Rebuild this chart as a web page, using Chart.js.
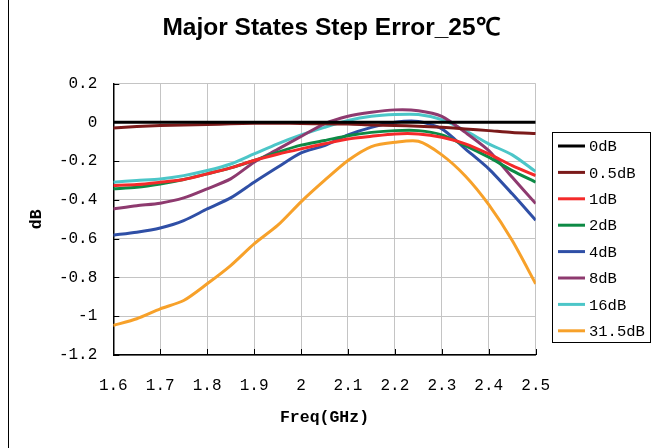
<!DOCTYPE html>
<html>
<head>
<meta charset="UTF-8">
<title>Major States Step Error_25℃</title>
<script src="https://cdn.jsdelivr.net/npm/chart.js"></script>
<style>
  body { margin: 0; background: #fff; }
  #wrap { width: 653px; height: 448px; position: relative; }
</style>
</head>
<body>
<div id="wrap"><canvas id="c"></canvas></div>
<script>
// frequency points (GHz)
const freqs = [1.6, 1.65, 1.7, 1.75, 1.8, 1.85, 1.9, 1.95, 2.0, 2.05, 2.1, 2.15, 2.2, 2.25, 2.3, 2.35, 2.4, 2.45, 2.5];
const labels = ['0dB', '0.5dB', '1dB', '2dB', '4dB', '8dB', '16dB', '31.5dB'];

// step error (dB)
const s0   = [0, 0, 0, 0, 0, 0, 0, 0, 0, 0, 0, 0, 0, 0, 0, 0, 0, 0, 0];
const s05  = [-0.029, -0.022, -0.017, -0.014, -0.012, -0.008, -0.005, -0.005, -0.006, -0.008, -0.009, -0.014, -0.017, -0.02, -0.026, -0.034, -0.043, -0.053, -0.058];
const s1   = [-0.326, -0.321, -0.309, -0.295, -0.266, -0.235, -0.197, -0.165, -0.137, -0.111, -0.086, -0.072, -0.06, -0.06, -0.077, -0.111, -0.163, -0.223, -0.275];
const s2   = [-0.343, -0.335, -0.318, -0.295, -0.266, -0.235, -0.197, -0.155, -0.118, -0.094, -0.069, -0.052, -0.043, -0.043, -0.065, -0.12, -0.18, -0.249, -0.309];
const s4   = [-0.582, -0.567, -0.545, -0.507, -0.447, -0.39, -0.309, -0.232, -0.158, -0.12, -0.065, -0.026, 0, 0.004, -0.034, -0.137, -0.24, -0.369, -0.505];
const s8   = [-0.447, -0.43, -0.417, -0.39, -0.343, -0.292, -0.206, -0.14, -0.073, -0.008, 0.031, 0.052, 0.064, 0.06, 0.031, -0.052, -0.146, -0.284, -0.419];
const s16  = [-0.309, -0.3, -0.292, -0.275, -0.249, -0.215, -0.163, -0.111, -0.065, -0.026, 0.009, 0.031, 0.04, 0.04, 0.014, -0.043, -0.111, -0.168, -0.254];
const s315 = [-1.048, -1.013, -0.962, -0.919, -0.833, -0.739, -0.627, -0.532, -0.41, -0.3, -0.197, -0.125, -0.103, -0.098, -0.168, -0.277, -0.425, -0.61, -0.833];

const xTicks = [1.6, 1.7, 1.8, 1.9, 2.0, 2.1, 2.2, 2.3, 2.4, 2.5];
const yTicks = [0.2, 0, -0.2, -0.4, -0.6, -0.8, -1, -1.2];

const colors = ['#000000', '#7b1a1a', '#f42a2a', '#0d8a45', '#2f4fa6', '#8e3a6f', '#4cc6c8', '#f7a12a'];
const series = [s0, s05, s1, s2, s4, s8, s16, s315];

const monoFont = 'Liberation Mono, DejaVu Sans Mono, monospace';

// title, frame line, inward tick marks and the boxed legend
const decor = {
  id: 'decor',
  afterDraw(chart) {
    const ctx = chart.ctx;
    const area = chart.chartArea;
    const xs = chart.scales.x, ys = chart.scales.y;
    ctx.save();
    ctx.fillStyle = '#000';
    ctx.font = 'bold 24.5px Liberation Sans, Arial, sans-serif';
    ctx.textAlign = 'center';
    ctx.textBaseline = 'middle';
    ctx.fillText('Major States Step Error_25℃', 331, 28);

    ctx.strokeStyle = '#000';
    ctx.lineWidth = 1;
    ctx.beginPath();
    ctx.moveTo(8.5, 0);
    ctx.lineTo(8.5, 448);
    // inward ticks
    xTicks.forEach(v => {
      const px = Math.round(xs.getPixelForValue(v)) + 0.5;
      ctx.moveTo(px, area.bottom);
      ctx.lineTo(px, area.bottom - 6);
    });
    yTicks.forEach(v => {
      const py = Math.round(ys.getPixelForValue(v)) + 0.5;
      ctx.moveTo(area.left, py);
      ctx.lineTo(area.left + 6, py);
    });
    ctx.stroke();

    // legend
    ctx.strokeRect(552.5, 132.5, 98, 210);
    ctx.font = '15.5px ' + monoFont;
    ctx.textAlign = 'left';
    chart.data.datasets.forEach((ds, i) => {
      const y = 146 + i * 26.4;
      ctx.strokeStyle = ds.borderColor;
      ctx.lineWidth = 3;
      ctx.beginPath();
      ctx.moveTo(558, y);
      ctx.lineTo(585, y);
      ctx.stroke();
      ctx.fillStyle = '#000';
      ctx.fillText(ds.label, 589, y + 1);
    });
    ctx.restore();
  }
};

const fmt = v => String(parseFloat(Number(v).toFixed(2)));

new Chart(document.getElementById('c'), {
  type: 'line',
  data: {
    datasets: series.map((s, i) => ({
      label: labels[i],
      data: s.map((y, j) => ({ x: freqs[j], y: y })),
      borderColor: colors[i],
      backgroundColor: colors[i],
      borderWidth: 3,
      pointRadius: 0,
      tension: 0.25
    }))
  },
  options: {
    responsive: true,
    maintainAspectRatio: false,
    animation: false,
    layout: { padding: { left: 0, top: 83.5, right: 117.3, bottom: 0 } },
    plugins: { legend: { display: false }, title: { display: false }, tooltip: { enabled: false } },
    scales: {
      x: {
        type: 'linear',
        min: 1.6,
        max: 2.5,
        afterBuildTicks: sc => { sc.ticks = xTicks.map(v => ({ value: v })); },
        afterFit: sc => { sc.height = 93; },
        grid: { color: '#c4c4c4', lineWidth: 1, drawTicks: false },
        border: { color: '#000', width: 1.5 },
        ticks: { color: '#000', padding: 21, font: { family: monoFont, size: 16 }, callback: fmt, maxRotation: 0 },
        title: { display: true, text: 'Freq(GHz)', color: '#000', font: { family: monoFont, size: 16.5, weight: 'bold' }, padding: { bottom: 20 } }
      },
      y: {
        min: -1.2,
        max: 0.2,
        afterBuildTicks: sc => { sc.ticks = yTicks.map(v => ({ value: v })); },
        afterFit: sc => { sc.width = 113.3; },
        grid: { color: '#c4c4c4', lineWidth: 1, drawTicks: false },
        border: { color: '#000', width: 1.5 },
        ticks: { color: '#000', padding: 16, font: { family: monoFont, size: 16 }, callback: fmt },
        title: { display: true, text: 'dB', color: '#000', font: { family: monoFont, size: 16.5, weight: 'bold' }, padding: { top: 27 } }
      }
    }
  },
  plugins: [decor]
});
</script>
</body>
</html>
